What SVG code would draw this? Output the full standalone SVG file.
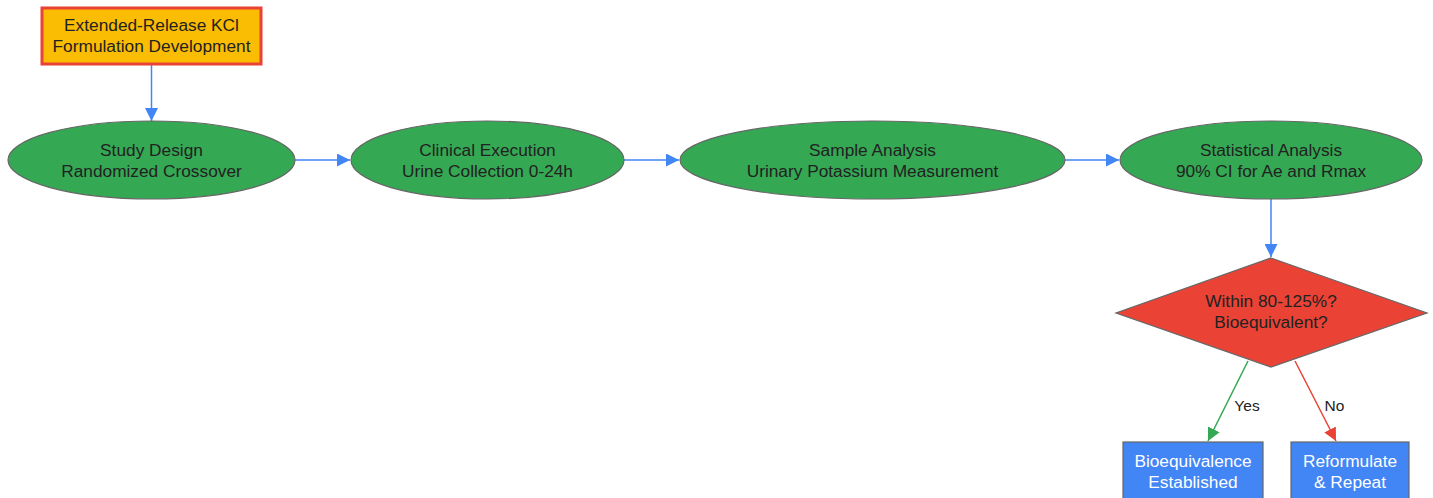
<svg xmlns="http://www.w3.org/2000/svg" width="1433" height="498" viewBox="0 0 1433 498">
<style>
text{font-family:"Liberation Sans",Arial,sans-serif;font-size:17.3px;fill:#222;text-anchor:middle}
text.lbl{font-size:15.5px}
.w{fill:#fff}
.ell{fill:#34A853;stroke:#666;stroke-width:1.2}
.blue{fill:#4285F4;stroke:#666;stroke-width:1.2}
.e{fill:none;stroke-width:1.5}
</style>
<defs>
<marker id="ab" viewBox="0 0 10 10" refX="10" refY="5" markerWidth="13" markerHeight="13" markerUnits="userSpaceOnUse" orient="auto"><path d="M0,0L10,5L0,10z" fill="#4285F4"/></marker>
<marker id="ag" viewBox="0 0 10 10" refX="10" refY="5" markerWidth="13" markerHeight="13" markerUnits="userSpaceOnUse" orient="auto"><path d="M0,0L10,5L0,10z" fill="#34A853"/></marker>
<marker id="ar" viewBox="0 0 10 10" refX="10" refY="5" markerWidth="13" markerHeight="13" markerUnits="userSpaceOnUse" orient="auto"><path d="M0,0L10,5L0,10z" fill="#EA4335"/></marker>
</defs>
<g id="connectors">
<path class="e" stroke="#4285F4" d="M151.5,65V121" marker-end="url(#ab)"/>
<path class="e" stroke="#4285F4" d="M295,160H350" marker-end="url(#ab)"/>
<path class="e" stroke="#4285F4" d="M624,160H679" marker-end="url(#ab)"/>
<path class="e" stroke="#4285F4" d="M1065,160H1119" marker-end="url(#ab)"/>
<path class="e" stroke="#4285F4" d="M1271,199V257" marker-end="url(#ab)"/>
<path class="e" stroke="#34A853" d="M1248,361L1208,441" marker-end="url(#ag)"/>
<path class="e" stroke="#EA4335" d="M1295,361L1336,441" marker-end="url(#ar)"/>
<text class="lbl" x="1247" y="411">Yes</text>
<text class="lbl" x="1334.5" y="411">No</text>
</g>
<g id="start">
<rect x="42" y="8" width="219" height="56" fill="#FBBC04" stroke="#EA4335" stroke-width="3"/>
<text x="151.5" y="31">Extended-Release KCl</text>
<text x="151.5" y="52">Formulation Development</text>
</g>
<g id="design">
<ellipse class="ell" cx="151.5" cy="160" rx="143.5" ry="39"/>
<text x="151.5" y="156">Study Design</text>
<text x="151.5" y="177">Randomized Crossover</text>
</g>
<g id="clinical">
<ellipse class="ell" cx="487.5" cy="160" rx="136.5" ry="39"/>
<text x="487.5" y="156">Clinical Execution</text>
<text x="487.5" y="177">Urine Collection 0-24h</text>
</g>
<g id="sample">
<ellipse class="ell" cx="872.5" cy="160" rx="192.5" ry="39"/>
<text x="872.5" y="156">Sample Analysis</text>
<text x="872.5" y="177">Urinary Potassium Measurement</text>
</g>
<g id="stats">
<ellipse class="ell" cx="1271" cy="160" rx="151" ry="39"/>
<text x="1271" y="156">Statistical Analysis</text>
<text x="1271" y="177">90% CI for Ae and Rmax</text>
</g>
<g id="decision">
<polygon points="1271,258 1427,313 1271,367 1116,313" fill="#EA4335" stroke="#666" stroke-width="1.2"/>
<text x="1271" y="307">Within 80-125%?</text>
<text x="1271" y="328">Bioequivalent?</text>
</g>
<g id="established">
<rect class="blue" x="1123" y="442" width="140" height="62"/>
<text class="w" x="1193" y="467">Bioequivalence</text>
<text class="w" x="1193" y="488">Established</text>
</g>
<g id="reformulate">
<rect class="blue" x="1291" y="442" width="118" height="62"/>
<text class="w" x="1350" y="467">Reformulate</text>
<text class="w" x="1350" y="488">&amp; Repeat</text>
</g>
</svg>
